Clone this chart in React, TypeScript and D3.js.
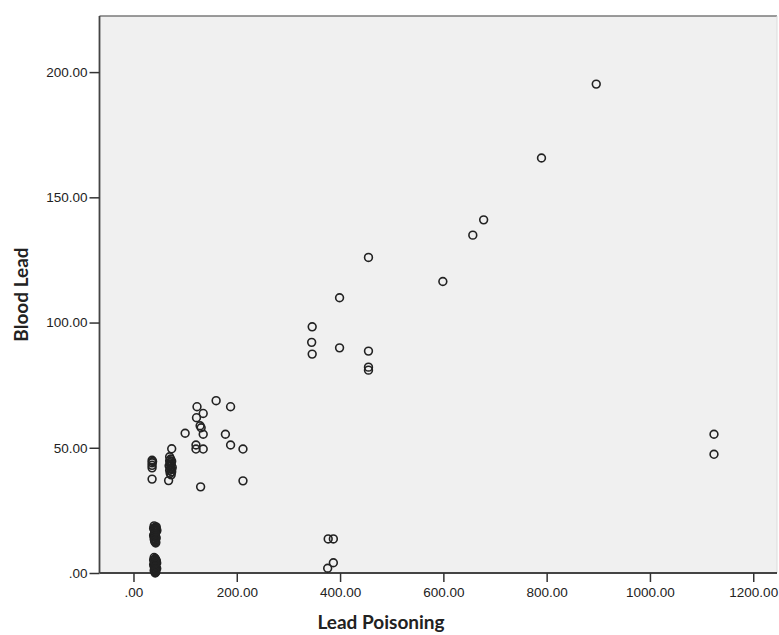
import React, { useEffect, useRef } from 'react';
import * as d3 from 'd3';

// Lead Poisoning (x) vs Blood Lead (y)
const leadPoisoning = [
  896, 790, 678, 657, 599,
  455, 399, 346, 345, 346, 399, 455, 455, 455,
  377, 387, 387, 376,
  1124, 1124,
  160, 188, 123, 135, 122, 129, 131, 100, 135, 178, 188, 121, 121, 135, 212, 74,
  130, 212, 68, 36, 36, 36, 36, 36, 37,
  70, 72, 74, 71, 73, 69, 75, 72, 70, 74, 71, 73, 72, 70, 74,
  // dense block around 40 / 10-20
  40, 42, 44, 41, 43, 42, 40, 44, 42, 41, 43, 39, 45, 42, 40, 44, 43, 41, 42, 45, 39, 42,
  42, 42, 42, 42, 42, 42, 42, 42,
  // dense block around 40 / 0-6
  40, 42, 44, 41, 43, 42, 40, 44, 42, 41, 43, 42, 39, 45, 41, 43, 40, 44, 42, 45, 39, 43, 41,
  42, 42, 42, 42, 42, 42, 42, 42,
];
const bloodLead = [
  195.2, 165.7, 141.0, 134.9, 116.4,
  126.0, 109.9, 98.3, 92.1, 87.4, 89.9, 88.6, 82.2, 81.0,
  13.6, 13.6, 4.1, 1.9,
  55.4, 47.4,
  68.8, 66.4, 66.4, 63.7, 62.0, 58.8, 58.0, 55.8, 55.4, 55.4, 51.1, 51.1, 49.5, 49.5, 49.5, 49.6,
  34.4, 36.8, 36.9, 45.0, 44.0, 43.0, 42.0, 37.5, 44.5,
  46.4, 45.5, 44.6, 44.0, 43.4, 42.8, 42.2, 41.6, 41.0, 40.4, 39.8, 39.2, 43.0, 44.8, 41.4,
  18.8, 18.2, 17.6, 17.0, 16.4, 15.6, 14.8, 14.0, 13.2, 12.6, 12.0, 17.8, 16.8, 15.2, 13.6, 18.4, 12.4, 16.0, 14.4, 17.2, 15.0, 13.0,
  18.0, 17.4, 16.6, 15.8, 15.4, 14.6, 13.8, 12.8,
  6.2, 5.6, 5.0, 4.4, 3.8, 3.2, 2.6, 2.0, 1.4, 0.8, 0.3, 0.0, 5.2, 4.0, 3.0, 2.2, 1.0, 4.8, 5.8, 1.8, 3.4, 0.5, 2.8,
  5.4, 4.6, 3.6, 2.4, 1.6, 1.2, 0.6, 4.2,
];
const xTicks = [0, 200, 400, 600, 800, 1000, 1200];
const yTicks = [0, 50, 100, 150, 200];

const W = 779;
const H = 635;

export default function App() {
  const ref = useRef<SVGSVGElement>(null);

  useEffect(() => {
    document.body.style.margin = '0';
    const svg = d3.select(ref.current);
    svg.selectAll('*').remove();

    const left = 99.5, right = 777, top = 16, bottom = 573;
    const x = d3.scaleLinear().domain([-65.8, 1246]).range([left, right]);
    const y = d3.scaleLinear().domain([0, 222.4]).range([bottom, top]);
    const fmt = (v: number) => d3.format('.2f')(v).replace(/^0\./, '.');

    svg.append('rect')
      .attr('x', left).attr('y', top)
      .attr('width', right - left).attr('height', bottom - top)
      .attr('fill', '#f0f0f0');

    // frame
    svg.append('line').attr('x1', left).attr('x2', right).attr('y1', top).attr('y2', top)
      .attr('stroke', '#7a7a7a').attr('stroke-width', 1.5);
    svg.append('line').attr('x1', right).attr('x2', right).attr('y1', top).attr('y2', bottom)
      .attr('stroke', '#dcdcdc').attr('stroke-width', 1);

    const xAxis = d3.axisBottom(x).tickValues(xTicks).tickFormat(d => fmt(+d))
      .tickSize(9).tickSizeOuter(0).tickPadding(5);
    const gx = svg.append('g').attr('transform', `translate(0,${bottom})`).call(xAxis);

    const yAxis = d3.axisLeft(y).tickValues(yTicks).tickFormat(d => fmt(+d))
      .tickSize(10).tickSizeOuter(0).tickPadding(2);
    const gy = svg.append('g').attr('transform', `translate(${left},0)`).call(yAxis);

    [gx, gy].forEach(g => {
      g.select('.domain').attr('stroke', '#444').attr('stroke-width', 1.8);
      g.selectAll('.tick line').attr('stroke', '#333').attr('stroke-width', 1.5);
      g.selectAll('.tick text')
        .attr('fill', '#222')
        .style('font-family', '"Liberation Sans", Arial, sans-serif')
        .style('font-size', '13.5px');
    });
    gx.select('.domain').attr('d', `M${left},0H${right}`);
    gy.select('.domain').attr('d', `M0,${top}V${bottom}`);

    svg.append('g')
      .selectAll('circle')
      .data(leadPoisoning.map((v, i) => [v, bloodLead[i]]))
      .enter()
      .append('circle')
      .attr('cx', d => x(d[0]))
      .attr('cy', d => y(d[1]))
      .attr('r', 3.9)
      .attr('fill', 'none')
      .attr('stroke', '#222')
      .attr('stroke-width', 1.6);

    svg.append('text')
      .attr('x', 381).attr('y', 629)
      .attr('text-anchor', 'middle')
      .style('font-family', 'Lato, "Open Sans", sans-serif')
      .style('font-weight', 'bold')
      .style('font-size', '19px')
      .attr('fill', '#222')
      .text('Lead Poisoning');

    svg.append('text')
      .attr('transform', `translate(28,${(top + bottom) / 2}) rotate(-90)`)
      .attr('text-anchor', 'middle')
      .style('font-family', 'Lato, "Open Sans", sans-serif')
      .style('font-weight', 'bold')
      .style('font-size', '19px')
      .attr('fill', '#222')
      .text('Blood Lead');
  }, []);

  return <svg ref={ref} width={W} height={H} style={{ display: 'block', background: '#fff' }} />;
}
